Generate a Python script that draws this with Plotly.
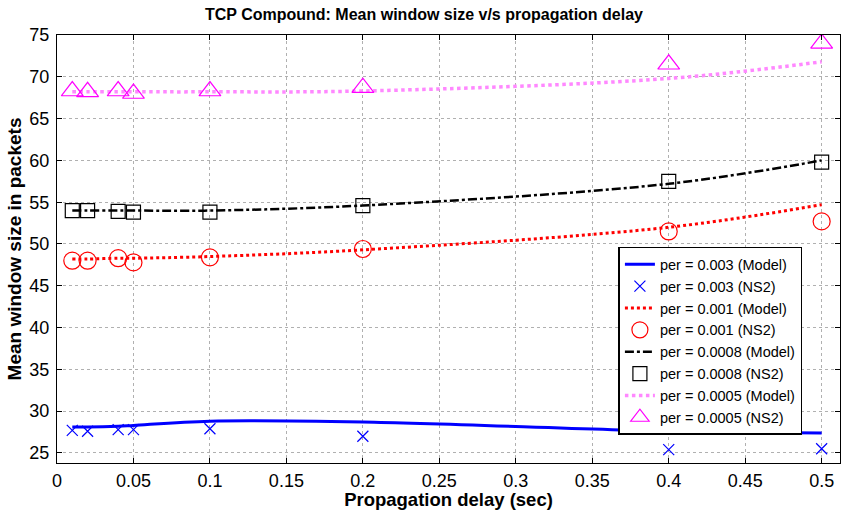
import plotly.graph_objects as go

delay = [0.01, 0.02, 0.04, 0.05, 0.1, 0.2, 0.4, 0.5]
model_x = [0.01, 0.02, 0.04, 0.05, 0.1, 0.2, 0.4, 0.5]

m003 = [28.1, 28.1, 28.2, 28.3, 28.8, 28.7, 27.6, 27.4]
n003 = [27.7, 27.6, 27.8, 27.8, 27.9, 27.0, 25.4, 25.5]
m001 = [48.2, 48.2, 48.3, 48.3, 48.5, 49.3, 52.0, 54.7]
n001 = [48.0, 48.0, 48.3, 47.8, 48.4, 49.4, 51.5, 52.7]
m0008 = [54.0, 54.0, 54.0, 54.0, 54.0, 54.6, 57.2, 60.0]
n0008 = [54.0, 54.0, 53.9, 53.8, 53.8, 54.6, 57.5, 59.8]
m0005 = [68.2, 68.2, 68.2, 68.2, 68.2, 68.3, 69.8, 71.8]
n0005 = [68.3, 68.2, 68.3, 68.0, 68.3, 68.7, 71.5, 74.0]

x_ticks = [0, 0.05, 0.1, 0.15, 0.2, 0.25, 0.3, 0.35, 0.4, 0.45, 0.5]
x_ticktext = ["0", "0.05", "0.1", "0.15", "0.2", "0.25", "0.3", "0.35", "0.4", "0.45", "0.5"]
y_ticks = [25, 30, 35, 40, 45, 50, 55, 60, 65, 70, 75]

labels = ["per = 0.003 (Model)", "per = 0.003 (NS2)", "per = 0.001 (Model)", "per = 0.001 (NS2)",
          "per = 0.0008 (Model)", "per = 0.0008 (NS2)", "per = 0.0005 (Model)", "per = 0.0005 (NS2)"]

fig = go.Figure()
fig.add_trace(go.Scatter(x=model_x, y=m003, mode="lines", name=labels[0],
                         line=dict(color="#0000ff", width=3, shape="spline")))
fig.add_trace(go.Scatter(x=delay, y=n003, mode="markers", name=labels[1],
                         marker=dict(symbol="x-thin-open", size=11, color="#0000ff",
                                     line=dict(color="#0000ff", width=1.2))))
fig.add_trace(go.Scatter(x=model_x, y=m001, mode="lines", name=labels[2],
                         line=dict(color="#ff0000", width=3, dash="dot", shape="spline")))
fig.add_trace(go.Scatter(x=delay, y=n001, mode="markers", name=labels[3],
                         marker=dict(symbol="circle-open", size=17, color="#ff0000",
                                     line=dict(color="#ff0000", width=1.2))))
fig.add_trace(go.Scatter(x=model_x, y=m0008, mode="lines", name=labels[4],
                         line=dict(color="#000000", width=2.5, dash="dashdot", shape="spline")))
fig.add_trace(go.Scatter(x=delay, y=n0008, mode="markers", name=labels[5],
                         marker=dict(symbol="square-open", size=14, color="#000000",
                                     line=dict(color="#000000", width=1.2))))
fig.add_trace(go.Scatter(x=model_x, y=m0005, mode="lines", name=labels[6],
                         line=dict(color="#ff88ff", width=3.5, dash="dot", shape="spline")))
fig.add_trace(go.Scatter(x=delay, y=n0005, mode="markers", name=labels[7],
                         marker=dict(symbol="triangle-up-open", size=19, color="#ff00ff",
                                     line=dict(color="#ff00ff", width=1.2))))

axis_common = dict(showline=True, linecolor="black", linewidth=1, mirror="ticks",
                   ticks="inside", ticklen=5, tickcolor="black",
                   showgrid=True, gridcolor="#b0b0b0", griddash="dot", gridwidth=1,
                   zeroline=False, automargin=False, tickfont=dict(size=18, color="black"))

fig.update_layout(
    width=848, height=510,
    paper_bgcolor="white", plot_bgcolor="white",
    margin=dict(l=57, r=8, t=35, b=47),
    font=dict(family="Liberation Sans, Arial, sans-serif", color="black"),
    title=dict(text="<b>TCP Compound: Mean window size v/s propagation delay</b>",
               x=0.5, xanchor="center", y=0.972, yanchor="middle",
               font=dict(size=16)),
    xaxis=dict(range=[0, 0.512], tickmode="array", tickvals=x_ticks, ticktext=x_ticktext,
               ticklabelstandoff=1,
               title=dict(text="<b>Propagation delay (sec)</b>", font=dict(size=18.5), standoff=0),
               **axis_common),
    yaxis=dict(range=[23.8, 75], tickmode="array", tickvals=y_ticks,
               ticklabelstandoff=3,
               title=dict(text="<b>Mean window size in packets</b>", font=dict(size=19), standoff=2),
               **axis_common),
    legend=dict(x=0.717, y=0.505, xanchor="left", yanchor="top",
                bgcolor="white", bordercolor="black", borderwidth=1.5,
                font=dict(size=14.5), tracegroupgap=0, itemwidth=30),
    showlegend=True,
)

fig.write_html("out.html")
